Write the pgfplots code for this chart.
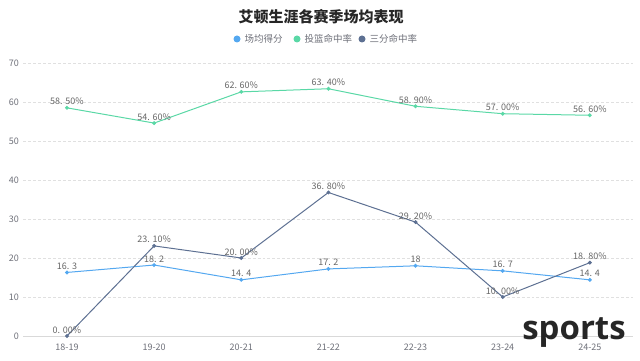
\documentclass[border=0pt]{standalone}
\usepackage{pgfplots}
\pgfplotsset{compat=1.18}
\usepackage{fontspec}
\setmainfont{Noto Sans CJK SC}
\newfontfamily\wm{Open Sans}
\definecolor{cA}{HTML}{54A8F0}
\definecolor{cB}{HTML}{5AD8A6}
\definecolor{cC}{HTML}{5D7092}
\definecolor{lbl}{HTML}{666666}
\definecolor{tk}{HTML}{6E7079}
\begin{document}
\begin{tikzpicture}
\path[use as bounding box] (0,0) rectangle (640bp,361bp);
\node[font=\fontsize{15bp}{16bp}\selectfont\bfseries, text=black!85] at (321bp,344bp) {艾顿生涯各赛季场均表现};
% legend
\begin{scope}[font=\fontsize{9.5bp}{10bp}\selectfont]
\fill[cA] (237bp,322bp) circle (3.5bp);
\node[anchor=west,text=tk] at (241bp,322bp) {场均得分};
\fill[cB] (297bp,322bp) circle (3.5bp);
\node[anchor=west,text=tk] at (301bp,322bp) {投篮命中率};
\fill[cC] (362bp,322bp) circle (3.5bp);
\node[anchor=west,text=tk] at (366bp,322bp) {三分命中率};
\end{scope}
\begin{axis}[
  at={(23.4bp,25bp)}, anchor=south west,
  scale only axis, width=610bp, height=273bp,
  xmin=-0.5, xmax=6.5, ymin=0, ymax=70,
  xtick={0,...,6},
  xticklabels={18-19,19-20,20-21,21-22,22-23,23-24,24-25},
  ytick={0,10,...,70},
  axis x line=bottom, axis y line=left,
  x axis line style={-, draw=black!15, line width=0.8bp},
  y axis line style={draw=none},
  major tick length=0pt,
  ymajorgrids, major grid style={densely dashed, draw=black!12, line width=0.6bp},
  tick label style={font=\fontsize{9bp}{10bp}\selectfont, text=tk},
  /pgf/number format/assume math mode=true,
  xticklabel style={yshift=-4bp},
  yticklabel style={xshift=-1bp},
  clip=false,
  nodes near coords,
  point meta=explicit symbolic,
  every node near coord/.append style={font=\fontsize{9bp}{10bp}\selectfont, text=lbl, anchor=south, yshift=-1bp},
  every axis plot/.append style={line width=1bp, mark=*, mark size=1.4bp},
]
\addplot[cB, mark options={fill=cB}] coordinates {
 (0,58.5) [58. 50\%] (1,54.6) [54. 60\%] (2,62.6) [62. 60\%] (3,63.4) [63. 40\%]
 (4,58.9) [58. 90\%] (5,57.0) [57. 00\%] (6,56.6) [56. 60\%]};
\addplot[cA, mark options={fill=cA}] coordinates {
 (0,16.3) [16. 3] (1,18.2) [18. 2] (2,14.4) [14. 4] (3,17.2) [17. 2]
 (4,18) [18] (5,16.7) [16. 7] (6,14.4) [14. 4]};
\addplot[cC, mark options={fill=cC}] coordinates {
 (0,0) [0. 00\%] (1,23.1) [23. 10\%] (2,20.0) [20. 00\%] (3,36.8) [36. 80\%]
 (4,29.2) [29. 20\%] (5,10.0) [10. 00\%] (6,18.8) [18. 80\%]};
\end{axis}
\node[font=\wm\fontsize{33bp}{36bp}\selectfont\bfseries, text=black!85, anchor=base] at (574bp,22bp) {sports};
\end{tikzpicture}
\end{document}
